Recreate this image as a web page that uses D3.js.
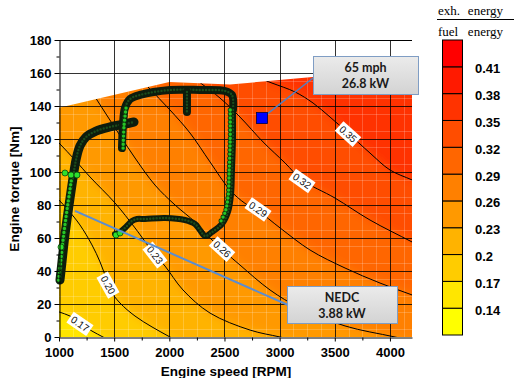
<!DOCTYPE html>
<html><head><meta charset="utf-8">
<script src="https://cdn.jsdelivr.net/npm/d3@7"></script>
<style>body{margin:0;background:#fff} svg{display:block}</style>
</head><body><svg id="c" width="514" height="378"></svg>
<script>
// ---------------- data ----------------
const xTicks = [1000,1500,2000,2500,3000,3500,4000];
const xMinor = [1250,1750,2250,2750,3250,3750];
const yTicks = [0,20,40,60,80,100,120,140,160,180];
const yMinor = [10,30,50,70,90,110,130,150,170];
const levels = [0.17,0.20,0.23,0.26,0.29,0.32,0.35];
const levelLabels = ["0.17","0.20","0.23","0.26","0.29","0.32","0.35"];
const colorbarEdges = [0.11,0.14,0.17,0.20,0.23,0.26,0.29,0.32,0.35,0.38,0.41,0.44];
const colorbarTicks = [0.14,0.17,0.20,0.23,0.26,0.29,0.32,0.35,0.38,0.41];
const colorbarLabels = ["0.14","0.17","0.2","0.23","0.26","0.29","0.32","0.35","0.38","0.41"];
const maxTorque = [[1000,139],[2000,154.5],[2550,153],[3300,157.6],[4200,162]];
const contour017 = [[1000,15.2],[1100,12.7],[1190,8.5],[1299,3.6],[1399,0]];
const contour020 = [[1000,83.0],[1082,77.0],[1190,67.9],[1299,55.8],[1372,45.5],[1426,35.8],[1463,28.5],[1553,20.6],[1689,12.7],[1843,6.1],[2006,0]];
const contour023 = [[1000,117.6],[1145,107.3],[1281,97.0],[1508,81.2],[1689,66.1],[1870,49.7],[1961,43.0],[2124,28.5],[2369,14.5],[2732,4.2],[3004,0]];
const contour026 = [[1345,143.6],[1508,126.7],[1689,108.5],[1870,92.1],[2052,80.0],[2233,69.7],[2369,60.0],[2505,51.5],[2641,43.6],[2913,28.5],[3185,17.6],[3593,6.7],[4046,0]];
const contour029 = [[1807,151.5],[2006,137.6],[2188,123.6],[2369,106.1],[2550,89.1],[2686,81.0],[2804,76.5],[3004,66.1],[3276,52.7],[3593,41.8],[3910,32.7],[4200,25.5]];
const contour032 = [[2296,153.3],[2460,144.8],[2641,133.3],[2850,118.2],[3049,105.5],[3203,95.2],[3502,84.2],[3819,70.9],[4200,57.6]];
const contour035 = [[2931,153.9],[3140,148.5],[3303,141.8],[3457,133.3],[3611,124.2],[3819,111.5],[4001,101.2],[4200,95.2]];
const labelPoints = [[1190,7.9],[1444,31.5],[1870,49.7],[2478,53.3],[2804,77.3],[3203,94.6],[3620,123]];
const nedcBand = [[1009,34.5],[1027,45.5],[1054,61.8],[1091,80.0],[1127,96.4],[1154,107.3],[1190,115.8],[1245,121.2],[1335,124.8],[1462,127.3],[1598,129.1],[1680,130.3]];
const nedcLoop = [[1571,114.5],[1580,128.5],[1598,138.8],[1644,144.2],[1734,146.7],[2006,149.7],[2278,149.7],[2505,149.1],[2568,146.7],[2577,137.6],[2577,119.4],[2568,101.2],[2559,86.1],[2532,75.8],[2478,68.5],[2387,63.6],[2324,61.2],[2278,64.8],[2233,68.5],[2142,70.9],[1961,72.1],[1780,71.5],[1707,71.5],[1662,70.3],[1607,66.7],[1553,63.6],[1508,62.4]];
const nedcStub = [[2160,148.5],[2160,136.4]];
const greenDots = [[1054,99.4],[1109,98.2],[1163,98.2],[1018,54.5],[1517,61.8],[1553,63.0]];
const point65mph = [2840,132.7];
const pointNEDC = [1145,76.4];
const box65Text = ["65 mph","26.8 kW"];
const boxNEDCText = ["NEDC","3.88 kW"];

// ---------------- setup ----------------
const svg = d3.select("#c");
const FONT = "'Liberation Sans', Arial, sans-serif";
const x = d3.scaleLinear().domain([1000,4200]).range([59,412]);
const y = d3.scaleLinear().domain([0,180]).range([337,40]);
const colorIdx = d3.scaleLinear().domain([0,10]).range(["#ffff00","#ff0000"]);
const px = d => [x(d[0]), y(d[1])];

const defs = svg.append("defs");
const boundary = maxTorque.map(px);
const clipD = "M" + [...boundary, [x(4200),y(0)], [x(1000),y(0)]].map(p=>p.join(",")).join("L") + "Z";
defs.append("clipPath").attr("id","mapClip").append("path").attr("d", clipD);
const filt = defs.append("filter").attr("id","soft").attr("filterUnits","userSpaceOnUse")
  .attr("x",-60).attr("y",-60).attr("width",640).attr("height",500);
filt.append("feGaussianBlur").attr("stdDeviation",5);
const grad = defs.append("linearGradient").attr("id","boxGrad").attr("x1",0).attr("y1",0).attr("x2",0).attr("y2",1);
grad.append("stop").attr("offset","0%").attr("stop-color","#ebebeb");
grad.append("stop").attr("offset","100%").attr("stop-color","#d3d3d3");

const contours = [contour017,contour020,contour023,contour026,contour029,contour032,contour035];
const extend = pts => {
  const a = pts[0], b = pts[1], c = pts[pts.length-1], d = pts[pts.length-2];
  return [[2*a[0]-b[0], 2*a[1]-b[1]], ...pts, [2*c[0]-d[0], 2*c[1]-d[1]]];
};
const curveLine = d3.line().x(d=>x(d[0])).y(d=>y(d[1])).curve(d3.curveCatmullRom.alpha(0.5));

// ---------------- map fill ----------------
const mapG = svg.append("g").attr("clip-path","url(#mapClip)");
const fillG = mapG.append("g").attr("filter","url(#soft)");
fillG.append("rect").attr("x",-40).attr("y",-40).attr("width",600).attr("height",460).attr("fill", colorIdx(1));
const farCorners = [[8000,-100],[8000,400],[-2000,400]].map(px);
contours.forEach((c,k) => {
  const d = curveLine(extend(c)) + "L" + farCorners.map(p=>p.join(",")).join("L") + "Z";
  fillG.append("path").attr("d", d).attr("fill", colorIdx(k+2));
});
// faint mesh
const meshG = mapG.append("g").attr("stroke","#fff").attr("stroke-opacity",0.2).attr("stroke-width",1);
d3.range(1125,4200,125).filter(v=>v%500!==0).forEach(v=>{
  meshG.append("line").attr("x1",Math.round(x(v))+0.5).attr("x2",Math.round(x(v))+0.5).attr("y1",y(180)).attr("y2",y(0));
});
d3.range(5,180,10).forEach(v=>{
  meshG.append("line").attr("x1",x(1000)).attr("x2",x(4200)).attr("y1",Math.round(y(v))+0.5).attr("y2",Math.round(y(v))+0.5);
});
// contour lines
contours.forEach(c => {
  mapG.append("path").attr("d", curveLine(extend(c))).attr("fill","none")
    .attr("stroke","#000").attr("stroke-width",1);
});

// ---------------- grid ----------------
const gridG = svg.append("g").attr("stroke","#000").attr("stroke-width",1);
xTicks.filter(v=>v>1000).forEach(v=>{
  gridG.append("line").attr("x1",Math.round(x(v))+0.5).attr("x2",Math.round(x(v))+0.5)
    .attr("y1",y(180)).attr("y2",y(0)).attr("stroke-opacity",0.8);
});
yTicks.filter(v=>v>0).forEach(v=>{
  gridG.append("line").attr("x1",x(1000)).attr("x2",x(4200))
    .attr("y1",Math.round(y(v))+0.5).attr("y2",Math.round(y(v))+0.5).attr("stroke-opacity", v===180?1:0.8);
});

// ---------------- contour labels ----------------
labelPoints.forEach((lp,k) => {
  const c = contours[k].map(px);
  const p = px(lp);
  let j = d3.minIndex(c, q => (q[0]-p[0])**2 + (q[1]-p[1])**2);
  const a = c[Math.max(0,j-1)], b = c[Math.min(c.length-1,j+1)];
  const ang = Math.atan2(b[1]-a[1], b[0]-a[0]) * 180/Math.PI;
  const g = svg.append("g").attr("transform",`translate(${p[0]},${p[1]}) rotate(${ang})`);
  g.append("rect").attr("x",-12).attr("y",-6.5).attr("width",24).attr("height",13).attr("fill","#fff");
  g.append("text").attr("text-anchor","middle").attr("dy","0.35em")
    .style("font-family",FONT).style("font-size","10px").attr("fill","#111").text(levelLabels[k]);
});

// ---------------- NEDC operating points ----------------
const trajG = svg.append("g").attr("fill","none").attr("stroke-linecap","round").attr("stroke-linejoin","round");
const band = (pts,w) => {
  trajG.append("path").attr("d",curveLine(pts)).attr("stroke","#0d1c0d").attr("stroke-width",w);
  trajG.append("path").attr("d",curveLine(pts)).attr("stroke","#1f5a1f").attr("stroke-width",2.4)
    .attr("stroke-dasharray","0 3.2").attr("stroke-opacity",0.8);
};
band(nedcBand, 9);
band(nedcLoop.slice(0,10), 8);
band(nedcLoop.slice(9), 6);
band(nedcStub, 8);
const chain = pts => {
  trajG.append("path").attr("d",curveLine(pts)).attr("stroke","#0b330b").attr("stroke-width",5).attr("stroke-dasharray","0 4");
  trajG.append("path").attr("d",curveLine(pts)).attr("stroke","#27c427").attr("stroke-width",3.4).attr("stroke-dasharray","0 4");
};
chain(nedcLoop.slice(9,15).map(d=>[d[0]-25,d[1]]));
chain(nedcLoop.slice(0,3).map(d=>[d[0]+10,d[1]]));
chain(nedcBand.slice(0,5).map(d=>[d[0]-12,d[1]]));
svg.append("g").selectAll("circle").data(greenDots).join("circle")
  .attr("cx",d=>x(d[0])).attr("cy",d=>y(d[1])).attr("r",3)
  .attr("fill","#2de02d").attr("stroke","#0b4a0b").attr("stroke-width",0.8);

// ---------------- annotations ----------------
const box = (bx,by,bw,bh,lines) => {
  svg.append("rect").attr("x",bx+0.5).attr("y",by+0.5).attr("width",bw).attr("height",bh)
    .attr("fill","url(#boxGrad)").attr("stroke","#7f9dc4").attr("stroke-width",1);
  lines.forEach((t,i)=>svg.append("text").attr("x",bx+bw/2).attr("y",by+16+i*16)
    .attr("text-anchor","middle").style("font-family","Lato, 'Open Sans', sans-serif")
    .style("font-weight","bold").style("font-size","12.5px").attr("fill","#1a1a1a").text(t));
};
// 65 mph
svg.append("line").attr("x1",313).attr("y1",78).attr("x2",x(point65mph[0])).attr("y2",y(point65mph[1]))
  .attr("stroke","#4f81c4").attr("stroke-width",1.5);
box(313,56,105,38,box65Text);
svg.append("rect").attr("x",x(point65mph[0])-5.5).attr("y",y(point65mph[1])-5.5).attr("width",11).attr("height",11)
  .attr("fill","#0000ff").attr("stroke","#000040").attr("stroke-width",0.8);
// NEDC
svg.append("line").attr("x1",288).attr("y1",305).attr("x2",x(pointNEDC[0])).attr("y2",y(pointNEDC[1]))
  .attr("stroke","#5b8dd0").attr("stroke-width",2);
box(287,286,110,37,boxNEDCText);

// ---------------- axes ----------------
const styleAxis = g => {
  g.selectAll("text").style("font-family",FONT).style("font-weight","bold").style("font-size","13px").attr("fill","#000");
  g.selectAll("line,path").attr("stroke","#000");
};
svg.append("g").attr("transform",`translate(0,${y(0)+0.5})`)
  .call(d3.axisBottom(x).tickValues(xMinor).tickSize(3).tickFormat("").tickSizeOuter(0))
  .call(g=>g.select(".domain").remove()).call(styleAxis);
svg.append("g").attr("transform",`translate(0,${y(0)+0.5})`)
  .call(d3.axisBottom(x).tickValues(xTicks).tickFormat(d3.format("d")).tickSize(4).tickPadding(6).tickSizeOuter(0)).call(styleAxis);
svg.append("g").attr("transform",`translate(${x(1000)+0.5},0)`)
  .call(d3.axisLeft(y).tickValues(yMinor).tickSize(3).tickFormat("").tickSizeOuter(0))
  .call(g=>g.select(".domain").remove()).call(styleAxis);
svg.append("g").attr("transform",`translate(${x(1000)+0.5},0)`)
  .call(d3.axisLeft(y).tickValues(yTicks).tickFormat(d3.format("d")).tickSize(5).tickPadding(3).tickSizeOuter(0)).call(styleAxis);

svg.append("text").attr("x",226).attr("y",376).attr("text-anchor","middle")
  .style("font-family",FONT).style("font-weight","bold").style("font-size","13.5px").text("Engine speed [RPM]");
svg.append("text").attr("transform","translate(19,189) rotate(-90)").attr("text-anchor","middle")
  .style("font-family",FONT).style("font-weight","bold").style("font-size","13.5px").text("Engine torque [Nm]");

// ---------------- colorbar ----------------
const cb = d3.scaleLinear().domain([0.11,0.44]).range([335,40]);
const cbG = svg.append("g");
d3.range(11).forEach(i=>{
  cbG.append("rect").attr("x",442.5).attr("y",cb(colorbarEdges[i+1])).attr("width",20)
    .attr("height",cb(colorbarEdges[i])-cb(colorbarEdges[i+1]))
    .attr("fill",colorIdx(i)).attr("stroke","#000").attr("stroke-width",1);
});
cbG.selectAll("text").data(colorbarTicks).join("text")
  .attr("x",475).attr("y",d=>cb(d)+2).attr("dy","0.35em")
  .style("font-family",FONT).style("font-weight","bold").style("font-size","13px")
  .text((d,i)=>colorbarLabels[i]);
const serif = "'Liberation Serif', 'Times New Roman', serif";
[["exh.",438,"start",15],["energy",503,"end",15],["fuel",438,"start",36],["energy",503,"end",36]].forEach(t=>{
  svg.append("text").attr("x",t[1]).attr("y",t[3]).attr("text-anchor",t[2])
    .style("font-family",serif).style("font-size","13px").text(t[0]);
});
svg.append("line").attr("x1",437).attr("x2",514).attr("y1",19.5).attr("y2",19.5).attr("stroke","#000");
</script>
</body></html>
